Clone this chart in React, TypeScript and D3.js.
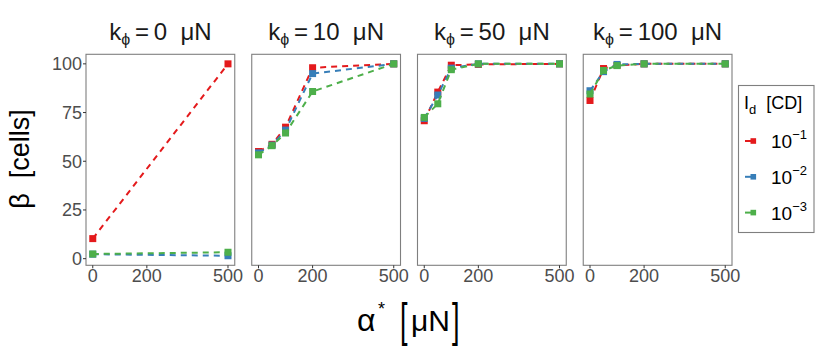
import React from "react";
import * as d3 from "d3";

// facet values (k_phi, in µN) and x positions (alpha*, in µN)
const kphi = [0, 10, 50, 100];
const alphaK0 = [0, 500];
const alphaOther = [0, 50, 100, 200, 500];

// legend levels: I_d = 10^-1, 10^-2, 10^-3
const idExponents = ["1", "2", "3"];
const idColors = ["#E41A1C", "#377EB8", "#4DAF4A"];

// beta [cells], one row per I_d level
const betaK0 = [
  [10.3, 100],
  [2.3, 1.5],
  [2.4, 3.3],
];
const betaK10 = [
  [55, 58.7, 67.5, 98, 100],
  [54.3, 58.3, 66, 95, 100],
  [53.3, 58, 64.5, 85.8, 100],
];
const betaK50 = [
  [70.8, 85.5, 99.3, 99.7, 100],
  [72, 84, 97.8, 100, 100],
  [72.5, 79.5, 97, 100, 100],
];
const betaK100 = [
  [81.2, 97.6, 99.2, 100, 100],
  [86.2, 96, 99.7, 100, 100],
  [84.5, 96.6, 99.1, 100, 100],
];

const yTicks = [0, 25, 50, 75, 100];
const xTicks = [0, 200, 500];

const panels = [
  { k: kphi[0], alpha: alphaK0, beta: betaK0 },
  { k: kphi[1], alpha: alphaOther, beta: betaK10 },
  { k: kphi[2], alpha: alphaOther, beta: betaK50 },
  { k: kphi[3], alpha: alphaOther, beta: betaK100 },
];

const W = 830;
const H = 356;
const font = "'Liberation Sans', Arial, sans-serif";
const sp = "\u00a0";

export default function App() {
  const band = d3.scaleBand<number>().domain(kphi).range([86, 732]).paddingInner(0.1025);
  const y = d3.scaleLinear().domain([-3.4, 104.9]).range([265.3, 54.3]);
  const top = 54.3;
  const bottom = 265.3;
  const pw = band.bandwidth();

  return (
    <svg
      width={W}
      height={H}
      style={{ position: "absolute", left: 0, top: 0, background: "#fff" }}
      fontFamily={font}
    >
      {panels.map((p, pi) => {
        const x0 = band(p.k)!;
        const x = d3.scaleLinear().domain([-25, 525]).range([x0, x0 + pw]);
        const line = d3
          .line<number>()
          .x((_, i) => x(p.alpha[i]))
          .y((d) => y(d));
        return (
          <g key={pi}>
            {/* facet title */}
            <text x={x0 + pw / 2} y={40} textAnchor="middle" fontSize={24} fill="#1a1a1a">
              k
              <tspan fontSize={16} dy={5}>ϕ</tspan>
              <tspan dy={-5}>{"\u2009=\u2009" + p.k + sp + sp + "μN"}</tspan>
            </text>
            {/* series */}
            {p.beta.map((vals, si) => (
              <g key={si}>
                <path d={line(vals)!} fill="none" stroke={idColors[si]} strokeWidth={2} strokeDasharray="6,5" />
                {vals.map((v, i) => (
                  <rect
                    key={i}
                    x={x(p.alpha[i]) - 3.5}
                    y={y(v) - 3.5}
                    width={7}
                    height={7}
                    fill={idColors[si]}
                  />
                ))}
              </g>
            ))}
            {/* panel border */}
            <rect x={x0} y={top} width={pw} height={bottom - top} fill="none" stroke="#7f7f7f" strokeWidth={1.1} />
            {/* x axis */}
            {xTicks.map((t) => (
              <g key={t}>
                <line x1={x(t)} x2={x(t)} y1={bottom} y2={bottom + 3} stroke="#333" strokeWidth={1} />
                <text x={x(t)} y={282} textAnchor="middle" fontSize={18} fill="#4d4d4d">
                  {t}
                </text>
              </g>
            ))}
            {/* y axis on first panel */}
            {pi === 0 &&
              yTicks.map((t) => (
                <g key={t}>
                  <line x1={x0 - 3} x2={x0} y1={y(t)} y2={y(t)} stroke="#333" strokeWidth={1} />
                  <text x={x0 - 4} y={y(t) + 6.5} textAnchor="end" fontSize={18} fill="#4d4d4d">
                    {t}
                  </text>
                </g>
              ))}
          </g>
        );
      })}

      {/* y title */}
      <text transform="translate(29,159) rotate(-90)" textAnchor="middle" fontSize={27} fill="#000">
        {"β" + sp + sp + "[cells]"}
      </text>

      {/* x title */}
      <g fill="#000">
        <text x={357} y={331} fontSize={32}>α</text>
        <text x={378} y={315} fontSize={18}>*</text>
        <text transform="translate(400,336) scale(0.9,1.55)" fontSize={30} fill="#000">[</text>
        <text x={411} y={331} fontSize={30}>μN</text>
        <text transform="translate(452,336) scale(0.9,1.55)" fontSize={30} fill="#000">]</text>
      </g>

      {/* legend */}
      <g>
        <rect x={738.5} y={85.5} width={75.5} height={147} fill="#fff" stroke="#7f7f7f" strokeWidth={1.1} />
        <text x={744} y={109} fontSize={18} fill="#000">
          I<tspan fontSize={13} dy={5}>d</tspan>
          <tspan dy={-5}>{sp + sp + "[CD]"}</tspan>
        </text>
        {idExponents.map((e, i) => {
          const cy = 141 + i * 35.8;
          return (
            <g key={e}>
              <line x1={745} x2={752} y1={cy} y2={cy} stroke={idColors[i]} strokeWidth={2} />
              <rect x={750.5} y={cy - 2.8} width={5.6} height={5.6} fill={idColors[i]} />
              <text x={771} y={cy + 7} fontSize={19} fill="#000">
                10<tspan fontSize={13} dy={-9}>{"−" + e}</tspan>
              </text>
            </g>
          );
        })}
      </g>
    </svg>
  );
}
